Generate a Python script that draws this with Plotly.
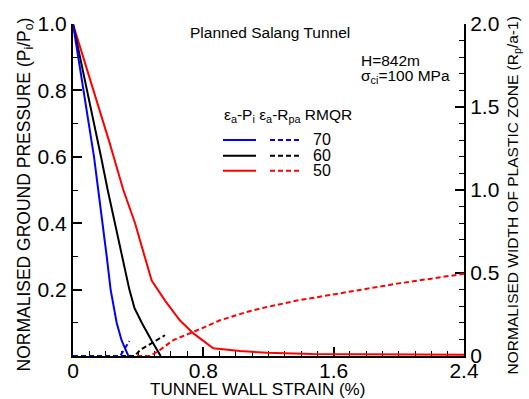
import plotly.graph_objects as go

# ---- data ----
# Normalised ground pressure (left axis) vs tunnel wall strain (%)
strain_pi_70 = [0, 0.115, 0.129, 0.155, 0.182, 0.207, 0.231, 0.268, 0.299, 0.34]
pi_70 = [1.0, 0.645, 0.60, 0.50, 0.40, 0.30, 0.20, 0.10, 0.046, 0.0]

strain_pi_60 = [0, 0.155, 0.172, 0.213, 0.258, 0.299, 0.346, 0.377, 0.422, 0.483, 0.538]
pi_60 = [1.0, 0.645, 0.60, 0.50, 0.40, 0.30, 0.20, 0.145, 0.10, 0.046, 0.0]

strain_pi_50 = [0, 0.223, 0.309, 0.381, 0.425, 0.455, 0.483, 0.565, 0.657, 0.739, 0.861,
                1.025, 1.19, 1.47, 2.4]
pi_50 = [1.0, 0.645, 0.50, 0.40, 0.325, 0.27, 0.227, 0.167, 0.107, 0.068, 0.023,
         0.015, 0.010, 0.006, 0.004]

# Normalised width of plastic zone (right axis) vs tunnel wall strain (%)
strain_rp_70 = [0, 0.29, 0.346]
rp_70 = [0, 0, 0.09]

strain_rp_60 = [0, 0.38, 0.411, 0.565]
rp_60 = [0, 0, 0.036, 0.125]

strain_rp_50 = [0, 0.473, 0.534, 0.616, 0.739, 0.902, 1.066, 1.168, 1.375, 1.64,
                1.99, 2.4]
rp_50 = [0, 0, 0.036, 0.096, 0.145, 0.215, 0.265, 0.29, 0.334, 0.376, 0.436, 0.495]

rmqr_labels = ["70", "60", "50"]
colors = ["#0000ff", "#000000", "#ff0000"]

x_ticks = [0, 0.8, 1.6, 2.4]
x_ticktext = ["0", "0.8", "1.6", "2.4"]
y_ticks = [0.2, 0.4, 0.6, 0.8, 1.0]
y_ticktext = ["0.2", "0.4", "0.6", "0.8", "1.0"]
y2_ticks = [0, 0.5, 1.0, 1.5, 2.0]
y2_ticktext = ["0", "0.5", "1.0", "1.5", "2.0"]

FONT = "Arial, Liberation Sans, sans-serif"
DASH = "5px,3px"

fig = go.Figure()

pi_sets = [(strain_pi_70, pi_70), (strain_pi_60, pi_60), (strain_pi_50, pi_50)]
rp_sets = [(strain_rp_70, rp_70), (strain_rp_60, rp_60), (strain_rp_50, rp_50)]

for i in [2, 1, 0]:
    xs, ys = pi_sets[i]
    fig.add_trace(go.Scatter(x=xs, y=ys, mode="lines", cliponaxis=False,
                             line=dict(color=colors[i], width=2),
                             showlegend=False, hoverinfo="skip"))
for i in [2, 1, 0]:
    xs, ys = rp_sets[i]
    fig.add_trace(go.Scatter(x=xs, y=ys, mode="lines", yaxis="y2", cliponaxis=False,
                             line=dict(color=colors[i], width=2, dash=DASH),
                             showlegend=False, hoverinfo="skip"))

L, R, T, B = 73, 65, 21, 43
W, H = 529, 399
pw, ph = W - L - R, H - T - B


def px(x):
    return (x - L) / pw


def py(y):
    return (H - B - y) / ph


axis_common = dict(showgrid=False, zeroline=False, showline=True,
                   linecolor="black", linewidth=2, ticks="inside",
                   ticklen=9, tickwidth=1.5, tickcolor="black",
                   layer="below traces",
                   tickfont=dict(family=FONT, size=21, color="black"))
minor = dict(dtick=0.1, tick0=0, ticks="inside", ticklen=5,
             tickwidth=1.2, tickcolor="black")

fig.update_layout(
    width=W, height=H, autosize=False,
    margin=dict(l=L, r=R, t=T, b=B, pad=0),
    paper_bgcolor="white", plot_bgcolor="white",
    font=dict(family=FONT, color="black"),
    xaxis=dict(range=[0, 2.4], tickvals=x_ticks, ticktext=x_ticktext,
               minor=minor, ticklabelstandoff=-5, **axis_common),
    yaxis=dict(range=[0, 1.0], tickvals=y_ticks, ticktext=y_ticktext,
               minor=minor, **axis_common),
    yaxis2=dict(range=[0, 2.0], tickvals=y2_ticks, ticktext=y2_ticktext,
                overlaying="y", side="right", anchor="x",
                minor=minor, **axis_common),
)

ann = []
ann.append(dict(text="TUNNEL WALL STRAIN (%)", x=px(257), y=py(390),
                xanchor="center", yanchor="middle", font=dict(size=17)))
ann.append(dict(text="NORMALISED GROUND PRESSURE (P<sub>i</sub>/P<sub>o</sub>)",
                x=px(25), y=py(193), textangle=-90,
                xanchor="center", yanchor="middle", font=dict(size=17.5)))
ann.append(dict(text="NORMALISED WIDTH OF PLASTIC ZONE (R<sub>p</sub>/a-1)",
                x=px(513), y=py(194), textangle=-90,
                xanchor="center", yanchor="middle", font=dict(size=15.5)))
ann.append(dict(text="Planned Salang Tunnel", x=px(188), y=py(30),
                xanchor="left", yanchor="middle", font=dict(size=15.5)))
ann.append(dict(text="H=842m", x=px(359), y=py(58),
                xanchor="left", yanchor="middle", font=dict(size=15.5)))
ann.append(dict(text="σ<sub>ci</sub>=100 MPa", x=px(359), y=py(74),
                xanchor="left", yanchor="middle", font=dict(size=15.5)))
ann.append(dict(text="ε<sub>a</sub>-P<sub>i</sub> ε<sub>a</sub>-R<sub>pa</sub> RMQR",
                x=px(222), y=py(113), xanchor="left", yanchor="middle",
                font=dict(size=15.5)))
row_y = [138, 154, 169]
shapes = []
for lab, c, ry in zip(rmqr_labels, colors, row_y):
    ann.append(dict(text=lab, x=px(311), y=py(ry), xanchor="left",
                    yanchor="middle", font=dict(size=16)))
    shapes.append(dict(type="line", xref="paper", yref="paper",
                       x0=px(223), x1=px(256), y0=py(ry), y1=py(ry),
                       line=dict(color=c, width=2)))
    shapes.append(dict(type="line", xref="paper", yref="paper",
                       x0=px(270), x1=px(301), y0=py(ry), y1=py(ry),
                       line=dict(color=c, width=2, dash=DASH)))

for a in ann:
    a.update(xref="paper", yref="paper", showarrow=False)
    a["font"].update(family=FONT, color="black")

fig.update_layout(annotations=ann, shapes=shapes)

fig.write_html("out.html")
